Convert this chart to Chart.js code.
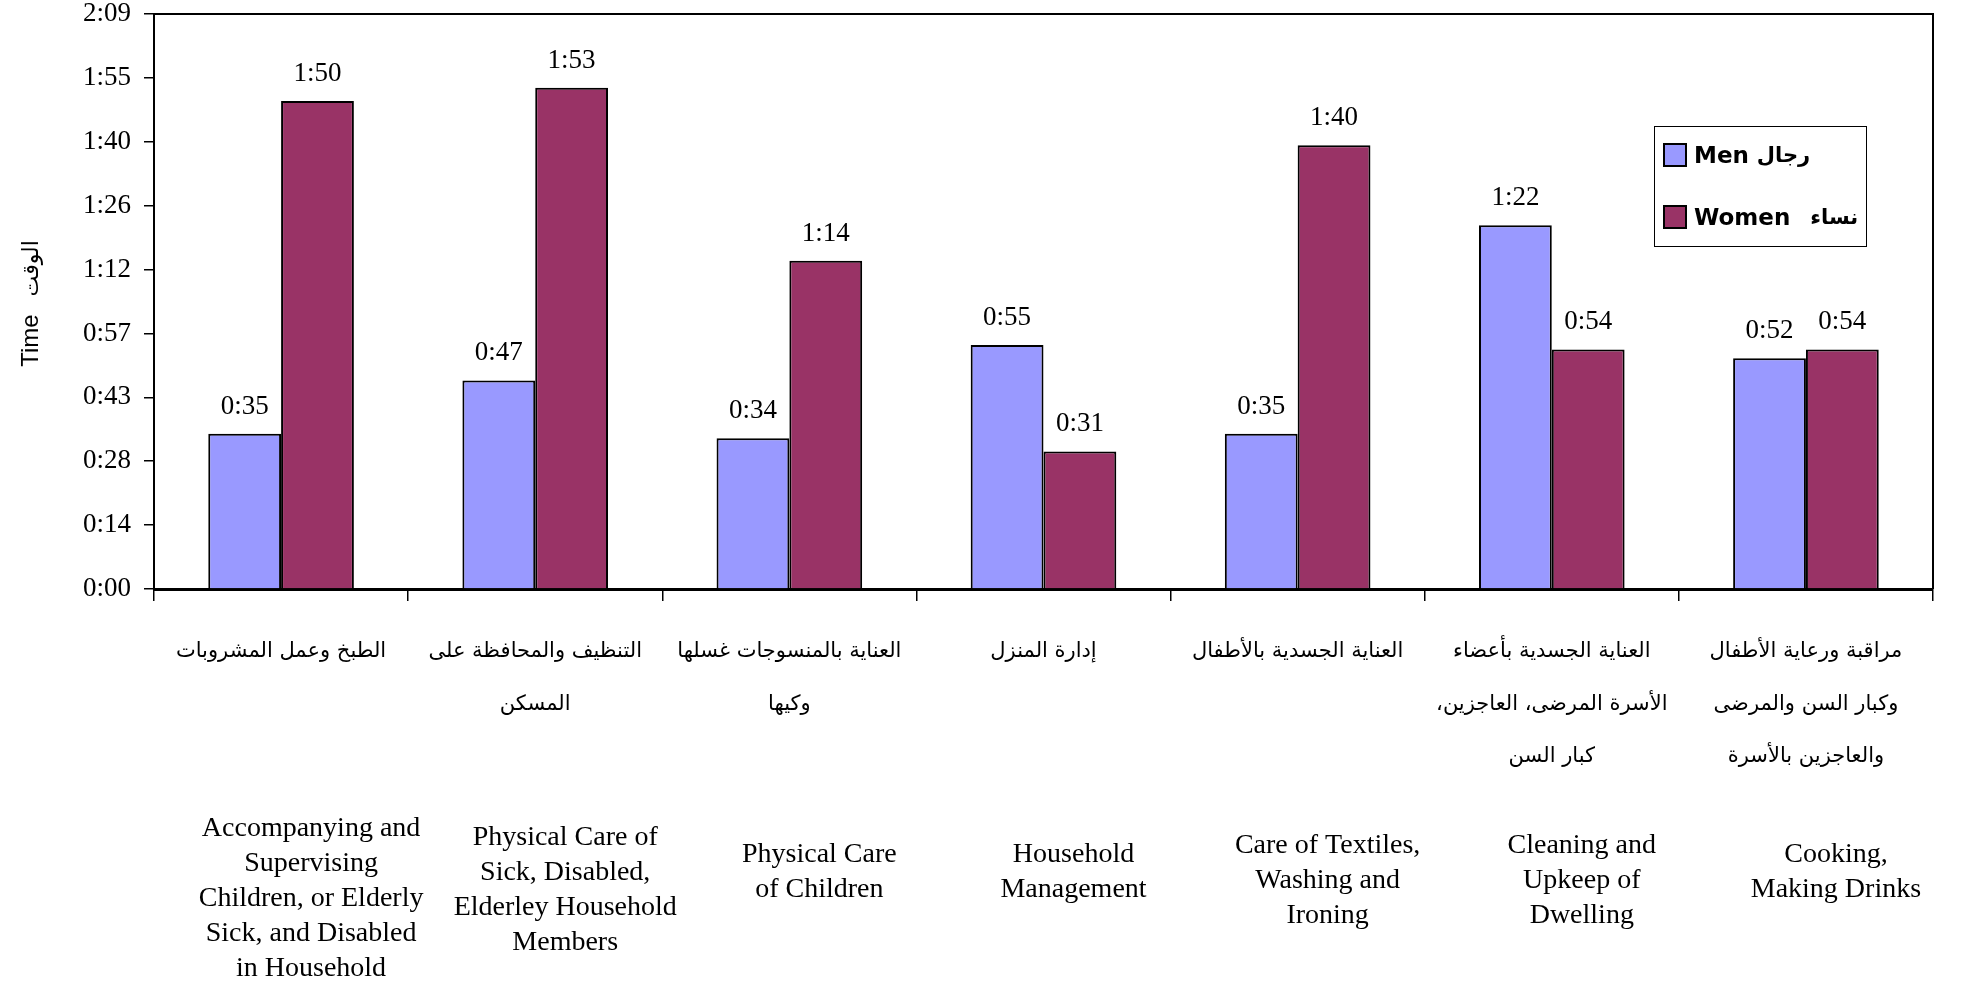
<!DOCTYPE html>
<html>
<head>
<meta charset="utf-8">
<script src="https://cdn.jsdelivr.net/npm/chart.js@4.4.1/dist/chart.umd.min.js"></script>
<style>
  html, body { margin: 0; padding: 0; background: #fff; }
  .chartBox { width: 1973px; height: 989px; }
</style>
</head>
<body>
<div class="chartBox"><canvas id="myChart"></canvas></div>
<script>
// categories (Arabic on the axis, English block below, as in the source sheet)
const arabicLabels = [
  ["الطبخ وعمل المشروبات"],
  ["التنظيف والمحافظة على", "المسكن"],
  ["العناية بالمنسوجات غسلها", "وكيها"],
  ["إدارة المنزل"],
  ["العناية الجسدية بالأطفال"],
  ["العناية الجسدية بأعضاء", "الأسرة المرضى، العاجزين،\u200F", "كبار السن"],
  ["مراقبة ورعاية الأطفال", "وكبار السن والمرضى", "والعاجزين بالأسرة"],
];
const englishLabels = [
  ["Accompanying and", "Supervising", "Children, or Elderly", "Sick, and Disabled", "in Household"],
  ["Physical Care of", "Sick, Disabled,", "Elderley Household", "Members"],
  ["Physical Care", "of Children"],
  ["Household", "Management"],
  ["Care of Textiles,", "Washing and", "Ironing"],
  ["Cleaning and", "Upkeep of", "Dwelling"],
  ["Cooking,", "Making Drinks"],
];

// minutes per day
const menMinutes = [35, 47, 34, 55, 35, 82, 52];
const womenMinutes = [110, 113, 74, 31, 100, 54, 54];

const yTickLabels = ["0:00", "0:14", "0:28", "0:43", "0:57", "1:12", "1:26", "1:40", "1:55", "2:09"];
const seriesNames = ["Men", "Women"];
const seriesNamesAr = ["رجال", "نساء"];
const seriesColors = ["#9999FF", "#993366"];

function toClock(min) {
  const h = Math.floor(min / 60);
  const m = min % 60;
  return h + ":" + (m < 10 ? "0" : "") + m;
}

const extras = {
  id: "extras",
  afterDraw(chart) {
    const ctx = chart.ctx;
    const area = chart.chartArea;
    const xScale = chart.scales.x;
    ctx.save();

    // top and right frame
    ctx.strokeStyle = "#000";
    ctx.lineWidth = 2;
    ctx.beginPath();
    ctx.moveTo(area.left, area.top);
    ctx.lineTo(area.right, area.top);
    ctx.lineTo(area.right, area.bottom);
    ctx.stroke();

    // value labels
    ctx.font = "27px 'Liberation Serif'";
    ctx.fillStyle = "#000";
    ctx.textAlign = "center";
    ctx.textBaseline = "alphabetic";
    chart.data.datasets.forEach((ds, d) => {
      chart.getDatasetMeta(d).data.forEach((bar, i) => {
        ctx.fillText(toClock(ds.data[i]), bar.x, bar.y - 20);
      });
    });

    // english category labels
    ctx.font = "28px 'Liberation Serif'";
    ctx.textBaseline = "middle";
    const lineH = 35;
    englishLabels.forEach((lines, i) => {
      const x = xScale.getPixelForValue(i) + 30;
      const mid = 872 + 9 * (lines.length - 2);
      const y0 = mid - (lines.length - 1) * lineH / 2;
      lines.forEach((t, k) => ctx.fillText(t, x, y0 + k * lineH));
    });

    // y axis title
    ctx.save();
    ctx.translate(38, (area.top + area.bottom) / 2 + 2);
    ctx.rotate(-Math.PI / 2);
    ctx.textAlign = "left";
    ctx.textBaseline = "alphabetic";
    ctx.font = "24px 'Liberation Sans'";
    const t1 = "Time";
    const w1 = ctx.measureText(t1).width;
    ctx.font = "22px 'DejaVu Sans'";
    const t2 = "الوقت";
    const w2 = ctx.measureText(t2).width;
    const gap = 18;
    const start = -(w1 + gap + w2) / 2;
    ctx.font = "24px 'Liberation Sans'";
    ctx.fillText(t1, start, 0);
    ctx.font = "22px 'DejaVu Sans'";
    ctx.fillText(t2, start + w1 + gap, 0);
    ctx.restore();

    // legend
    const bx = area.right - 279, by = 126, bw = 212, bh = 120;
    ctx.fillStyle = "#fff";
    ctx.fillRect(bx, by, bw, bh);
    ctx.lineWidth = 1;
    ctx.strokeStyle = "#000";
    ctx.strokeRect(bx + 0.5, by + 0.5, bw, bh);
    seriesNames.forEach((name, i) => {
      const sy = by + 18 + i * 62;
      ctx.fillStyle = seriesColors[i];
      ctx.fillRect(bx + 10, sy, 22, 22);
      ctx.lineWidth = 2;
      ctx.strokeRect(bx + 10, sy, 22, 22);
      ctx.fillStyle = "#000";
      ctx.textAlign = "left";
      ctx.textBaseline = "middle";
      ctx.font = "bold 23px 'DejaVu Sans'";
      ctx.fillText(name, bx + 40, sy + 13);
      const nw = ctx.measureText(name).width;
      ctx.font = "bold 21px 'DejaVu Sans'";
      ctx.fillText(seriesNamesAr[i], bx + 40 + nw + (i === 0 ? 8 : 20), sy + 13);
    });

    ctx.restore();
  }
};

new Chart(document.getElementById("myChart"), {
  type: "bar",
  data: {
    labels: arabicLabels,
    datasets: [
      {
        label: seriesNames[0],
        data: menMinutes,
        backgroundColor: seriesColors[0],
        borderColor: "#000",
        borderWidth: 2,
        categoryPercentage: 0.573,
        barPercentage: 1.0,
      },
      {
        label: seriesNames[1],
        data: womenMinutes,
        backgroundColor: seriesColors[1],
        borderColor: "#000",
        borderWidth: 2,
        categoryPercentage: 0.573,
        barPercentage: 1.0,
      },
    ],
  },
  options: {
    responsive: true,
    maintainAspectRatio: false,
    animation: false,
    layout: { padding: { top: 14, right: 40, left: 0, bottom: 0 } },
    plugins: {
      legend: { display: false },
      tooltip: { enabled: false },
    },
    scales: {
      x: {
        grid: {
          offset: true,
          drawOnChartArea: false,
          color: "#000",
          lineWidth: 1.5,
          tickLength: 12,
        },
        border: { color: "#000", width: 3 },
        ticks: {
          autoSkip: false,
          maxRotation: 0,
          padding: 25,
          color: "#000",
          font: { family: "'DejaVu Sans'", size: 21, lineHeight: 2.48 },
        },
        afterFit(scale) { scale.height = 400; },
      },
      y: {
        min: 0,
        max: 129.6,
        grid: {
          drawOnChartArea: false,
          color: "#000",
          lineWidth: 1.5,
          tickLength: 10,
        },
        border: { color: "#000", width: 2 },
        ticks: {
          stepSize: 14.4,
          padding: 13,
          color: "#000",
          font: { family: "'Liberation Serif'", size: 27, lineHeight: 0.05 },
          callback: (v, i) => yTickLabels[i],
        },
        afterFit(scale) { scale.width = 154; },
      },
    },
  },
  plugins: [extras],
});
</script>
</body>
</html>
